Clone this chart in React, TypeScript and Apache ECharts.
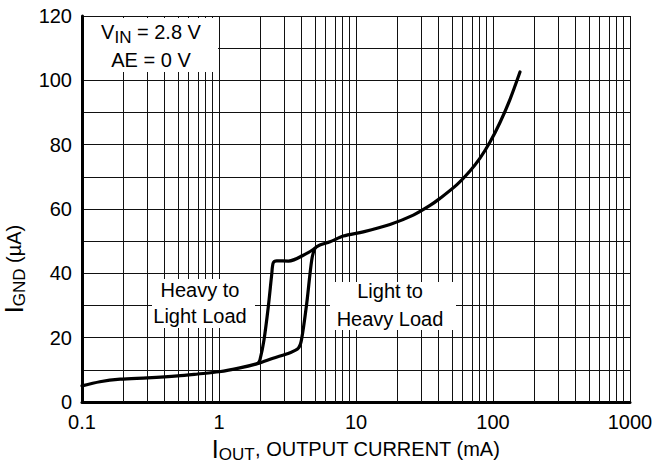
import React, { useEffect, useRef } from "react";
import * as echarts from "echarts";

const FONT = '"Liberation Sans", Arial, Helvetica, sans-serif';

// Main path: light-to-heavy transition and upper branch (I_OUT mA, I_GND uA)
const mainCurrent = [0.1, 0.135, 0.19, 0.3, 0.5, 0.7, 1, 1.42, 1.93, 2.48, 3.3, 3.79, 4.0, 4.37, 4.75, 5.02, 5.45, 6.46, 8.08, 11.3, 17.7, 26.2, 34.7, 41.0, 54.3, 67.9, 80.4, 95.1, 112.5, 133.1, 157.4];
const mainGnd = [5.0, 6.3, 7.1, 7.5, 8.1, 8.7, 9.4, 10.6, 12.0, 13.6, 15.3, 16.7, 19.3, 30.7, 44.1, 47.8, 48.8, 49.8, 51.6, 52.9, 55.2, 58.1, 61.1, 63.3, 67.5, 71.8, 75.8, 80.8, 86.9, 94.1, 102.6];

// Heavy-to-light branch
const hystCurrent = [1.93, 1.99, 2.13, 2.29, 2.43, 2.49, 2.64, 3.21, 4.37, 5.02];
const hystGnd = [12.0, 13.1, 19.3, 29.6, 40.0, 43.3, 43.9, 43.8, 46.2, 47.8];

const xTickLabels = ["0.1", "1", "10", "100", "1000"];
const xMinorGrid = [0.2, 0.3, 0.4, 0.5, 0.6, 0.7, 0.8, 0.9, 2, 3, 4, 5, 6, 7, 8, 9, 20, 30, 40, 50, 60, 70, 80, 90, 200, 300, 400, 500, 600, 700, 800, 900];

const GRID_COLOR = "#111";

const rich = {
  m: { fontSize: 20, fontFamily: FONT, color: "#000" },
  big: { fontSize: 25, fontFamily: FONT, color: "#000" },
  sub: { fontSize: 17, fontFamily: FONT, color: "#000", padding: [11, 0, 0, 0] },
};

function pairs(xs: number[], ys: number[]) {
  return xs.map((x, i) => [x, ys[i]]);
}

function labelBox(x: number, y: number, w: number, h: number, lines: { text: string; cx: number; cy: number }[]) {
  return {
    type: "group",
    z: 100,
    children: [
      { type: "rect", z: 100, shape: { x, y, width: w, height: h }, style: { fill: "#fff" } },
      ...lines.map((l) => ({
        type: "text",
        z: 101,
        x: l.cx,
        y: l.cy,
        style: { text: l.text, rich, align: "center", verticalAlign: "middle", font: `20px ${FONT}`, fill: "#000" },
      })),
    ],
  };
}

export default function App() {
  const ref = useRef<HTMLDivElement>(null);
  useEffect(() => {
    if (!ref.current) return;
    const chart = echarts.init(ref.current, undefined, { renderer: "svg" });
    chart.setOption({
      animation: false,
      backgroundColor: "#fff",
      grid: { left: 82, right: 30, top: 16, bottom: 61, containLabel: false, outerBoundsMode: "none" },
      xAxis: {
        type: "log",
        logBase: 10,
        min: 0.1,
        max: 1000,
        name: "{big|I}{sub|OUT}{m|, OUTPUT CURRENT (mA)}",
        nameLocation: "middle",
        nameGap: 30,
        nameTextStyle: { rich },
        axisLine: { show: true, onZero: false, lineStyle: { color: "#000", width: 3 } },
        axisTick: { show: false },
        axisLabel: {
          margin: 10,
          fontSize: 20,
          fontFamily: FONT,
          color: "#000",
          formatter: (v: number) => xTickLabels[Math.round(Math.log10(v)) + 1] ?? "",
        },
        splitLine: { show: true, lineStyle: { color: GRID_COLOR, width: 1 } },
      },
      yAxis: {
        type: "value",
        min: 0,
        max: 120,
        interval: 20,
        name: "{big|I}{sub|GND}{m| (µA)}",
        nameLocation: "middle",
        nameRotate: 90,
        nameGap: 48,
        nameTextStyle: { rich, padding: [0, 120, 0, 0] },
        axisLine: { show: true, onZero: false, lineStyle: { color: "#000", width: 3 } },
        axisTick: { show: false },
        axisLabel: { margin: 10, fontSize: 20, fontFamily: FONT, color: "#000" },
        splitLine: { show: true, lineStyle: { color: GRID_COLOR, width: 1 } },
        minorTick: { show: false, splitNumber: 2 },
        minorSplitLine: { show: true, lineStyle: { color: GRID_COLOR, width: 1 } },
      },
      series: [
        {
          type: "line",
          data: [],
          z: 1,
          silent: true,
          markLine: {
            silent: true,
            symbol: ["none", "none"],
            label: { show: false },
            lineStyle: { color: GRID_COLOR, width: 1, type: "solid" },
            data: xMinorGrid.map((v) => ({ xAxis: v })),
          },
        },
        {
          type: "line",
          data: pairs(mainCurrent, mainGnd),
          z: 5,
          smooth: 0.3,
          showSymbol: false,
          lineStyle: { color: "#000", width: 3.2, cap: "round", join: "round" },
        },
        {
          type: "line",
          data: pairs(hystCurrent, hystGnd),
          z: 5,
          smooth: 0.3,
          showSymbol: false,
          lineStyle: { color: "#000", width: 3.2, cap: "round", join: "round" },
        },
      ],
      graphic: [
        labelBox(84, 18, 134, 54, [
          { text: "{m|V}{sub|IN}{m| = 2.8 V}", cx: 151, cy: 32 },
          { text: "{m|AE = 0 V}", cx: 151, cy: 60 },
        ]),
        labelBox(152, 279, 103, 49, [
          { text: "{m|Heavy to}", cx: 200, cy: 290 },
          { text: "{m|Light Load}", cx: 200, cy: 316 },
        ]),
        labelBox(330, 282, 126, 48, [
          { text: "{m|Light to}", cx: 390, cy: 291 },
          { text: "{m|Heavy Load}", cx: 390, cy: 319 },
        ]),
      ],
    });
    return () => chart.dispose();
  }, []);
  return <div ref={ref} style={{ position: "absolute", left: 0, top: 0, width: 660, height: 463 }} />;
}
